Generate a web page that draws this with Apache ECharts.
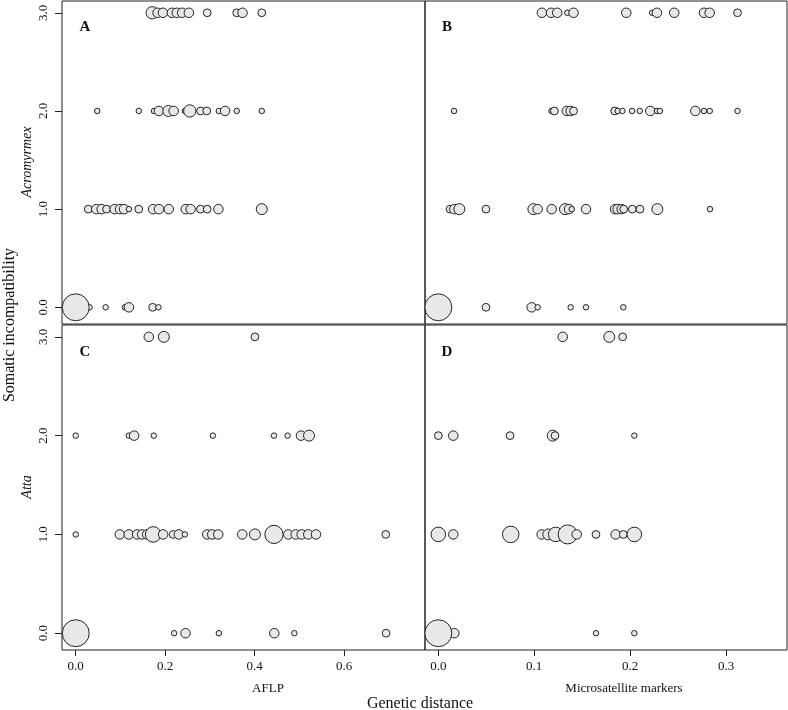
<!DOCTYPE html>
<html>
<head>
<meta charset="utf-8">
<script src="https://cdn.jsdelivr.net/npm/echarts@6/dist/echarts.min.js"></script>
<style>
  html, body { margin: 0; padding: 0; background: #fff; }
  #chart { width: 788px; height: 710px; }
</style>
</head>
<body>
<div id="chart"></div>
<script>
// bubble size = number of colony pairs at that point
const rowTicks = [0, 1, 2, 3]
const aflpTicks = [0, 0.2, 0.4, 0.6]
const msatTicks = [0, 0.1, 0.2, 0.3]

// A: Acromyrmex, AFLP
const aX = [0.171, 0.183, 0.195, 0.215, 0.226, 0.238, 0.253, 0.294, 0.360, 0.373, 0.416,
  0.048, 0.141, 0.175, 0.186, 0.207, 0.219, 0.244, 0.255, 0.279, 0.293, 0.320, 0.334, 0.360, 0.416,
  0.028, 0.046, 0.058, 0.069, 0.087, 0.099, 0.108, 0.119, 0.141, 0.173, 0.186, 0.208, 0.246, 0.257, 0.279, 0.294, 0.319, 0.416,
  0.031, 0.067, 0.110, 0.119, 0.172, 0.185, 0.0]
const aY = [3, 3, 3, 3, 3, 3, 3, 3, 3, 3, 3,
  2, 2, 2, 2, 2, 2, 2, 2, 2, 2, 2, 2, 2, 2,
  1, 1, 1, 1, 1, 1, 1, 1, 1, 1, 1, 1, 1, 1, 1, 1, 1, 1,
  0, 0, 0, 0, 0, 0, 0]
const aN = [5, 3, 3, 3, 3, 3, 3, 2, 2, 3, 2,
  1, 1, 1, 3, 4, 3, 1, 5, 2, 2, 1, 3, 1, 1,
  2, 3, 3, 2, 3, 3, 3, 1, 2, 3, 3, 3, 3, 3, 2, 2, 3, 4,
  1, 1, 1, 3, 2, 1, 24]

// B: Acromyrmex, microsatellites
const bX = [0.108, 0.1175, 0.124, 0.1345, 0.141, 0.196, 0.223, 0.228, 0.246, 0.277, 0.283, 0.312,
  0.0164, 0.118, 0.121, 0.134, 0.138, 0.141, 0.184, 0.187, 0.192, 0.202, 0.210, 0.221, 0.228, 0.231, 0.268, 0.277, 0.283, 0.312,
  0.0122, 0.0167, 0.0219, 0.0497, 0.0991, 0.1036, 0.1182, 0.1321, 0.1363, 0.1391, 0.154, 0.1843, 0.187, 0.1912, 0.1933, 0.2023, 0.2103, 0.2284, 0.2833,
  0.0497, 0.0973, 0.1036, 0.138, 0.154, 0.1929, 0.0]
const bY = [3, 3, 3, 3, 3, 3, 3, 3, 3, 3, 3, 3,
  2, 2, 2, 2, 2, 2, 2, 2, 2, 2, 2, 2, 2, 2, 2, 2, 2, 2,
  1, 1, 1, 1, 1, 1, 1, 1, 1, 1, 1, 1, 1, 1, 1, 1, 1, 1, 1,
  0, 0, 0, 0, 0, 0, 0]
const bN = [3, 3, 3, 1, 3, 3, 1, 3, 3, 3, 3, 2,
  1, 1, 2, 3, 3, 2, 2, 1, 1, 1, 1, 3, 1, 1, 3, 1, 1, 1,
  2, 3, 4, 2, 4, 3, 3, 4, 3, 1, 3, 3, 3, 3, 2, 2, 2, 4, 1,
  2, 3, 1, 1, 1, 1, 24]

// C: Atta, AFLP
const cX = [0.1634, 0.197, 0.4007,
  0.0, 0.1187, 0.1306, 0.1746, 0.3067, 0.4433, 0.4738, 0.5037, 0.5216,
  0.0, 0.0985, 0.1187, 0.1373, 0.1485, 0.1597, 0.1731, 0.1955, 0.2179, 0.2306, 0.244, 0.294, 0.3052, 0.3187, 0.3724, 0.4007, 0.4433, 0.4753, 0.4918, 0.5052, 0.52, 0.5373, 0.6933,
  0.2201, 0.2455, 0.3201, 0.444, 0.4888, 0.694, 0.0]
const cY = [3, 3, 3,
  2, 2, 2, 2, 2, 2, 2, 2, 2,
  1, 1, 1, 1, 1, 1, 1, 1, 1, 1, 1, 1, 1, 1, 1, 1, 1, 1, 1, 1, 1, 1, 1,
  0, 0, 0, 0, 0, 0, 0]
const cN = [3, 4, 2,
  1, 1, 3, 1, 1, 1, 1, 3, 4,
  1, 3, 3, 3, 3, 3, 8, 3, 2, 3, 1, 3, 3, 3, 3, 4, 11, 3, 3, 3, 3, 3, 2,
  1, 3, 1, 3, 1, 2, 24]

// D: Atta, microsatellites
const dX = [0.1297, 0.1783, 0.1922,
  0.0, 0.0156, 0.0748, 0.1193, 0.1217, 0.2044,
  0.0, 0.0156, 0.0755, 0.1078, 0.1147, 0.1224, 0.1349, 0.1443, 0.1644, 0.1849, 0.1929, 0.2044,
  0.0167, 0.1644, 0.2044, 0.0]
const dY = [3, 3, 3,
  2, 2, 2, 2, 2, 2,
  1, 1, 1, 1, 1, 1, 1, 1, 1, 1, 1, 1,
  0, 0, 0, 0]
const dN = [3, 4, 2,
  2, 3, 2, 4, 2, 1,
  7, 3, 9, 3, 4, 7, 12, 3, 2, 3, 2, 7,
  3, 1, 1, 24]

const panels = [
  { label: 'A', xs: aX, ys: aY, ns: aN },
  { label: 'B', xs: bX, ys: bY, ns: bN },
  { label: 'C', xs: cX, ys: cY, ns: cN },
  { label: 'D', xs: dX, ys: dY, ns: dN },
]

const serif = 'Liberation Serif, Times New Roman, serif'
const ink = '#222'

const grids = [
  { left: 62, top: 1, width: 363, height: 323 },
  { left: 425, top: 1, width: 362, height: 323 },
  { left: 62, top: 325, width: 363, height: 325 },
  { left: 425, top: 325, width: 362, height: 325 },
].map((g) => ({ ...g, show: true, borderColor: ink, borderWidth: 1, backgroundColor: 'transparent' }))

const fmt = (v) => v.toFixed(1)

const xAxes = panels.map((p, i) => {
  const aflp = i % 2 === 0
  const bottom = i >= 2
  const ticks = aflp ? aflpTicks : msatTicks
  return {
    gridIndex: i,
    type: 'value',
    position: 'bottom',
    min: aflp ? -0.0307 : -0.0139,
    max: aflp ? 0.781 : 0.3636,
    splitLine: { show: false },
    axisLine: { show: false, onZero: false },
    axisTick: { show: bottom, customValues: ticks, length: 6, lineStyle: { color: ink } },
    axisLabel: {
      show: bottom, customValues: ticks, formatter: fmt, margin: 10,
      fontFamily: serif, fontSize: 13, color: '#111',
    },
  }
})

const yAxes = panels.map((p, i) => {
  const left = i % 2 === 0
  return {
    gridIndex: i,
    type: 'value',
    position: 'left',
    min: -0.17,
    max: 3.12,
    splitLine: { show: false },
    axisLine: { show: false, onZero: false },
    axisTick: { show: left, customValues: rowTicks, length: 7, lineStyle: { color: ink } },
    axisLabel: {
      show: left, customValues: rowTicks, formatter: fmt, rotate: 90, margin: 12,
      fontFamily: serif, fontSize: 13, color: '#111',
    },
  }
})

const series = panels.map((p, i) => ({
  type: 'scatter',
  xAxisIndex: i,
  yAxisIndex: i,
  data: p.xs.map((x, k) => [x, p.ys[k], p.ns[k]]),
  symbol: 'circle',
  symbolSize: (v) => 5.5 * Math.sqrt(v[2]),
  itemStyle: { color: '#e8e8e8', borderColor: ink, borderWidth: 1, opacity: 1 },
  emphasis: { disabled: true },
  silent: true,
}))

const txt = (x, y, text, style, rotation) => ({
  type: 'text', x, y, rotation: rotation || 0,
  style: { text, fontFamily: serif, fill: '#111', align: 'center', verticalAlign: 'middle', ...style },
})

const graphic = [
  txt(85, 27, 'A', { fontSize: 15, fontWeight: 'bold' }),
  txt(447, 27, 'B', { fontSize: 15, fontWeight: 'bold' }),
  txt(85, 352, 'C', { fontSize: 15, fontWeight: 'bold' }),
  txt(447, 352, 'D', { fontSize: 15, fontWeight: 'bold' }),
  txt(268, 689, 'AFLP', { fontSize: 13 }),
  txt(624, 689, 'Microsatellite markers', { fontSize: 13 }),
  txt(420, 704, 'Genetic distance', { fontSize: 16 }),
  txt(27, 162, 'Acromyrmex', { fontSize: 14, fontStyle: 'italic' }, Math.PI / 2),
  txt(27, 487, 'Atta', { fontSize: 14, fontStyle: 'italic' }, Math.PI / 2),
  txt(10, 325, 'Somatic incompatibility', { fontSize: 16 }, Math.PI / 2),
]

const chart = echarts.init(document.getElementById('chart'), null, { renderer: 'canvas' })
chart.setOption({
  animation: false,
  grid: grids,
  xAxis: xAxes,
  yAxis: yAxes,
  series,
  graphic,
})
</script>
</body>
</html>
